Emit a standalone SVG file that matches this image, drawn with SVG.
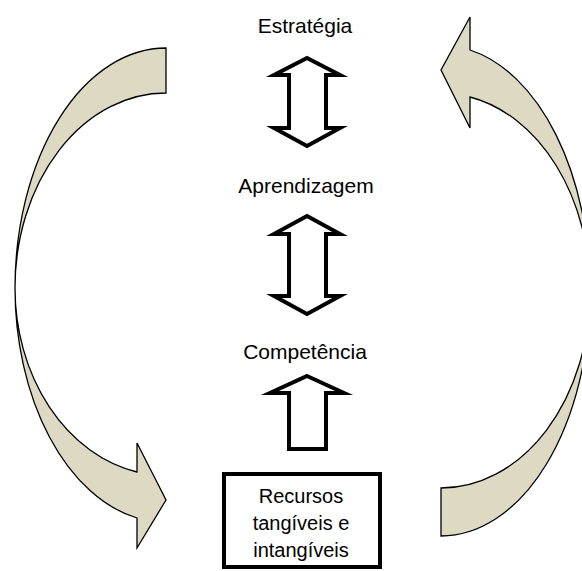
<svg xmlns="http://www.w3.org/2000/svg" width="582" height="571" viewBox="0 0 582 571">
<style>
.curve{fill:#DDD9C3;stroke:#000;stroke-width:1.3;stroke-linejoin:miter}
.blk{fill:#fff;stroke:#000;stroke-width:4;stroke-linejoin:miter;stroke-miterlimit:10}
.lbl{font-family:"Liberation Sans",Arial,sans-serif;font-size:21px;fill:#000;text-anchor:middle}
.box{fill:#fff;stroke:#000;stroke-width:4}
</style>
<rect width="582" height="571" fill="#fff"/>
<g id="connectors">
  <path id="left-curved-arrow" class="curve" d="M166,48 A151,240 0 0 0 15,288 A151,234.4 0 0 0 137,518 L137,548 L166,500 L137,443 L137,472 A151,187.5 0 0 1 15,288 A151,195 0 0 1 166,93 Z"/>
  <path id="right-curved-arrow" class="curve" d="M470,50 A149,245.7 0 0 1 590,291 A149,245 0 0 1 441,536 L441,488 A149,197 0 0 0 590,291 A149,197.8 0 0 0 470,97 L470,128 L441,70 L470,17 Z"/>
  <path id="arrow-estrategia-aprendizagem" class="blk" d="M307,58 L340,75 L326,75 L326,128 L340,128 L307,146 L274,128 L289,128 L289,75 L274,75 Z"/>
  <path id="arrow-aprendizagem-competencia" class="blk" d="M307,216 L340,234 L326,234 L326,296 L340,296 L307,314 L274,296 L289,296 L289,234 L274,234 Z"/>
  <path id="arrow-recursos-competencia" class="blk" d="M307,376 L344,393 L326,393 L326,449 L289,449 L289,393 L270,393 Z"/>
</g>
<g id="node-estrategia"><text class="lbl" x="305" y="33">Estratégia</text></g>
<g id="node-aprendizagem"><text class="lbl" x="306" y="193">Aprendizagem</text></g>
<g id="node-competencia"><text class="lbl" x="305" y="359">Competência</text></g>
<g id="node-recursos">
  <rect class="box" x="224" y="474" width="156" height="93"/>
  <text class="lbl" x="301" y="503" style="font-size:20px">Recursos</text>
  <text class="lbl" x="301" y="530" style="font-size:20px">tangíveis e</text>
  <text class="lbl" x="301" y="557" style="font-size:20px">intangíveis</text>
</g>
</svg>
